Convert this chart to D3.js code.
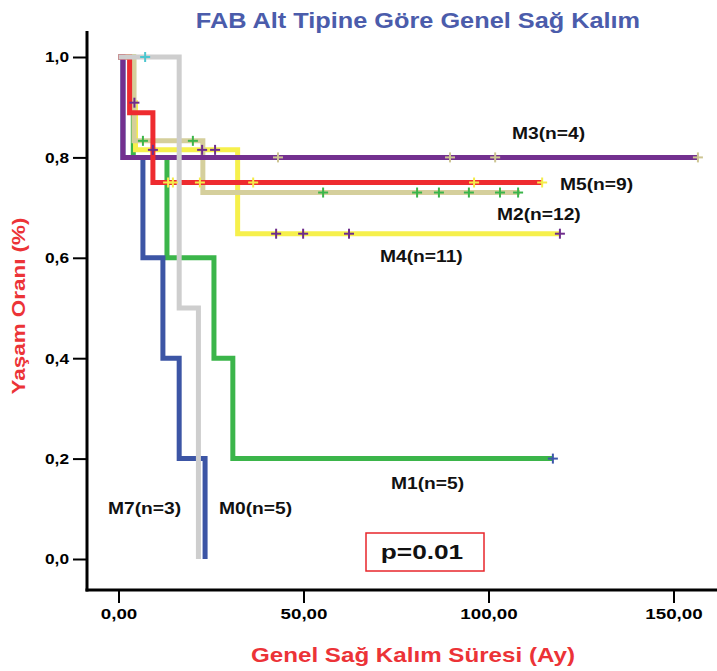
<!DOCTYPE html>
<html><head><meta charset="utf-8">
<script src="https://cdn.jsdelivr.net/npm/d3@7/dist/d3.min.js"></script>
<style>
html,body{margin:0;padding:0;background:#fff;}
svg{display:block;}
text{font-family:"Liberation Sans",Arial,sans-serif;font-weight:bold;}
</style>
</head><body>
<svg id="chart" width="717" height="671"></svg>
<script>
// ---------------- data ----------------
const title = "FAB Alt Tipine Göre Genel Sağ Kalım";
const xTitle = "Genel Sağ Kalım Süresi (Ay)";
const yTitle = "Yaşam Oranı (%)";
const xTicks = [0, 50, 100, 150];
const xTickLabels = ["0,00", "50,00", "100,00", "150,00"];
const yTicks = [0, 0.2, 0.4, 0.6, 0.8, 1.0];
const yTickLabels = ["0,0", "0,2", "0,4", "0,6", "0,8", "1,0"];
const pText = "p=0.01";

// drawing order (bottom to top)
const groups = ["M1", "M7", "M4", "M2", "M3", "M5", "M0"];
const groupLabels = ["M1(n=5)", "M7(n=3)", "M4(n=11)", "M2(n=12)", "M3(n=4)", "M5(n=9)", "M0(n=5)"];

// survival step curves (time in months, survival proportion)
const m4Times = [0, 4.0, 4.6, 32.2, 119.3];
const m4Surv  = [1, 0.909, 0.815, 0.648, 0.648];
const m2Times = [0, 4.2, 22.8, 108.5];
const m2Surv  = [1, 0.833, 0.73, 0.73];
const m3Times = [0, 1.2, 156.6];
const m3Surv  = [1, 0.8, 0.8];
const m5Times = [0, 3.0, 9.3, 114.5];
const m5Surv  = [1, 0.889, 0.75, 0.75];
const m1Times = [0, 4.0, 13.1, 25.8, 30.9, 117.4];
const m1Surv  = [1, 0.8, 0.6, 0.4, 0.2, 0.2];
const m7Times = [0, 1.2, 6.6, 12.0, 16.4, 23.4];
const m7Surv  = [1, 0.8, 0.6, 0.4, 0.2, 0];
const m0Times = [0, 16.4, 21.6];
const m0Surv  = [1, 0.5, 0];

// censored observations
const m4CensorTimes = [4.3, 9.3, 22.6, 26.1, 42.6, 49.9, 62.3, 119.3];
const m4CensorSurv  = [0.909, 0.815, 0.815, 0.815, 0.648, 0.648, 0.648, 0.648];
const m2CensorTimes = [6.6, 20.1, 55.3, 80.7, 86.6, 94.7, 103.1, 108.0];
const m2CensorSurv  = [0.833, 0.833, 0.73, 0.73, 0.73, 0.73, 0.73, 0.73];
const m3CensorTimes = [43.1, 89.6, 101.8, 156.6];
const m3CensorSurv  = [0.8, 0.8, 0.8, 0.8];
const m5CensorTimes = [13.4, 14.7, 22.0, 36.4, 96.1, 114.5];
const m5CensorSurv  = [0.75, 0.75, 0.75, 0.75, 0.75, 0.75];
const m1CensorTimes = [117.4];
const m1CensorSurv  = [0.2];
const m0CensorTimes = [7.2];
const m0CensorSurv  = [1.0];

// ---------------- styles / layout ----------------
const lineColors = {M4:"#f6f04c", M2:"#d5cf9c", M3:"#73308f", M5:"#ee2b2f", M1:"#3bb54a", M7:"#3c55a5", M0:"#cecece"};
const censorColors = {M4:"#6e2d8c", M2:"#3bb54a", M3:"#cdc593", M5:"#f4ec4a", M1:"#3d57aa", M0:"#4cc6cf"};
const labelPos = {M4:[380,262], M2:[497,220], M3:[512,139], M5:[560,190], M1:[391,489], M7:[108,514], M0:[219,514]};
const STRETCH = 1.2;

const series = {
  M4:{t:m4Times,s:m4Surv,ct:m4CensorTimes,cs:m4CensorSurv},
  M2:{t:m2Times,s:m2Surv,ct:m2CensorTimes,cs:m2CensorSurv},
  M3:{t:m3Times,s:m3Surv,ct:m3CensorTimes,cs:m3CensorSurv},
  M5:{t:m5Times,s:m5Surv,ct:m5CensorTimes,cs:m5CensorSurv},
  M1:{t:m1Times,s:m1Surv,ct:m1CensorTimes,cs:m1CensorSurv},
  M7:{t:m7Times,s:m7Surv,ct:[],cs:[]},
  M0:{t:m0Times,s:m0Surv,ct:m0CensorTimes,cs:m0CensorSurv}
};

function stretch(sel, f){
  sel.each(function(){
    const w = this.getComputedTextLength();
    d3.select(this).attr("textLength", w*f).attr("lengthAdjust","spacingAndGlyphs");
  });
  return sel;
}

const svg = d3.select("#chart");
svg.append("rect").attr("width",717).attr("height",671).attr("fill","#ffffff");

const x = d3.scaleLinear().domain([0,150]).range([118.5,673.5]);
const y = d3.scaleLinear().domain([0,1]).range([559,57]);

// axes
const axisX = 87, axisY = 590;
const yAxis = d3.axisLeft(y).tickValues(yTicks).tickSize(14).tickPadding(4)
  .tickFormat((d,i)=>yTickLabels[i]);
const gy = svg.append("g").attr("transform",`translate(${axisX},0)`).call(yAxis);
gy.select(".domain").remove();
gy.selectAll(".tick line").attr("stroke","#000").attr("stroke-width",2);
const yt = gy.selectAll(".tick text").attr("fill","#000").attr("font-size",15)
  .style("font-family","'Liberation Sans',Arial,sans-serif").style("font-weight","bold");
stretch(yt, 1.15);

const xAxis = d3.axisBottom(x).tickValues(xTicks).tickSize(13).tickPadding(5)
  .tickFormat((d,i)=>xTickLabels[i]);
const gx = svg.append("g").attr("transform",`translate(0,${axisY})`).call(xAxis);
gx.select(".domain").remove();
gx.selectAll(".tick line").attr("stroke","#000").attr("stroke-width",2);
const xt = gx.selectAll(".tick text").attr("fill","#000").attr("font-size",15)
  .style("font-family","'Liberation Sans',Arial,sans-serif").style("font-weight","bold");
stretch(xt, 1.25);

svg.append("line").attr("x1",axisX).attr("x2",axisX).attr("y1",31).attr("y2",axisY+1.5)
  .attr("stroke","#000").attr("stroke-width",3);
svg.append("line").attr("x1",axisX-1.5).attr("x2",717).attr("y1",axisY).attr("y2",axisY)
  .attr("stroke","#000").attr("stroke-width",3);

// curves
const line = d3.line().x(d=>x(d[0])).y(d=>y(d[1])).curve(d3.curveStepAfter);
groups.forEach(g=>{
  const sr = series[g];
  const pts = sr.t.map((t,i)=>[t, sr.s[i]]);
  svg.append("path").datum(pts).attr("d",line).attr("fill","none")
    .attr("stroke",lineColors[g]).attr("stroke-width",5).attr("stroke-linejoin","miter");
});

// censor marks
const arm = 5;
function cross(cx, cy, col){
  const gg = svg.append("g").attr("stroke",col).attr("stroke-width",2);
  gg.append("line").attr("x1",cx-arm).attr("x2",cx+arm).attr("y1",cy).attr("y2",cy);
  gg.append("line").attr("x1",cx).attr("x2",cx).attr("y1",cy-arm).attr("y2",cy+arm);
}
groups.forEach(g=>{
  const sr = series[g];
  sr.ct.forEach((t,i)=>cross(x(t), y(sr.cs[i]), censorColors[g]));
});

// group labels
groups.forEach((g,i)=>{
  const t = svg.append("text").attr("x",labelPos[g][0]).attr("y",labelPos[g][1])
    .attr("font-size",16).attr("fill","#111").text(groupLabels[i]);
  stretch(t, STRETCH);
});

// p value box
svg.append("rect").attr("x",366).attr("y",533).attr("width",118).attr("height",38)
  .attr("fill","#fff").attr("stroke","#e8262b").attr("stroke-width",1.5);
stretch(svg.append("text").attr("x",422).attr("y",559).attr("text-anchor","middle")
  .attr("font-size",21).attr("fill","#111").text(pText), 1.25);

// titles
stretch(svg.append("text").attr("x",418).attr("y",28).attr("text-anchor","middle")
  .attr("font-size",22).attr("fill","#4b5cab").text(title), 1.15);
stretch(svg.append("text").attr("x",413).attr("y",662).attr("text-anchor","middle")
  .attr("font-size",21).attr("fill","#ec3337").text(xTitle), 1.15);
stretch(svg.append("text").attr("transform","translate(25,306) rotate(-90)").attr("text-anchor","middle")
  .attr("font-size",19).attr("fill","#ec3337").text(yTitle), 1.18);
</script>
</body></html>
